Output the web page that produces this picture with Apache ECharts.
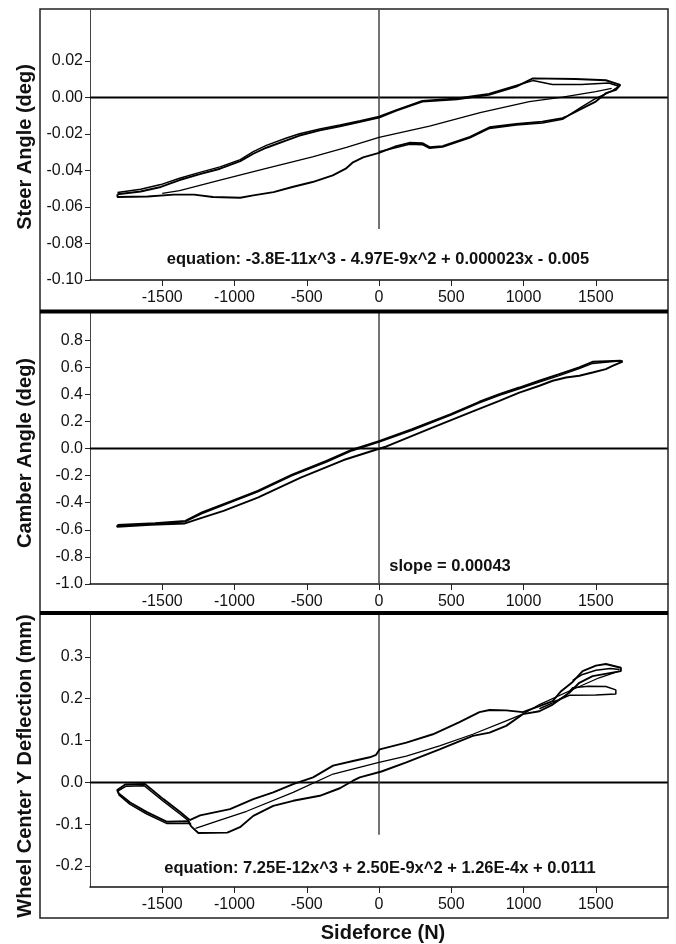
<!DOCTYPE html>
<html>
<head>
<meta charset="utf-8">
<script src="https://cdn.jsdelivr.net/npm/echarts@6/dist/echarts.min.js"></script>
<style>
html,body{margin:0;padding:0;background:#fff;}
#chart{width:676px;height:944px;}
</style>
</head>
<body>
<div id="chart"></div>
<script>
// ---------- tick labels ----------
const xTicks = [-1500, -1000, -500, 0, 500, 1000, 1500];
const steerTicks = [-0.10, -0.08, -0.06, -0.04, -0.02, 0.00, 0.02];
const camberTicks = [-1.0, -0.8, -0.6, -0.4, -0.2, 0.0, 0.2, 0.4, 0.6, 0.8];
const deflTicks = [-0.2, -0.1, 0.0, 0.1, 0.2, 0.3];

// ---------- axis titles / annotations ----------
const steerTitle = 'Steer Angle (deg)';
const camberTitle = 'Camber Angle (deg)';
const deflTitle = 'Wheel Center Y Deflection (mm)';
const xTitle = 'Sideforce (N)';
const steerNote = 'equation: -3.8E-11x^3 - 4.97E-9x^2 + 0.000023x - 0.005';
const camberNote = 'slope = 0.00043';
const deflNote = 'equation: 7.25E-12x^3 + 2.50E-9x^2 + 1.26E-4x + 0.0111';

// ---------- reference lines ----------
const zeroLine = [[-2000, 0], [2000, 0]];
const steerVLine = [[0, 0.048], [0, -0.072]];
const camberVLine = [[0, 1.0], [0, -1.0]];
const deflVLine = [[0, 0.40], [0, -0.125]];

// ---------- Steer angle (deg) vs sideforce (N) ----------
const steerLoop = [
  [-1810,-0.0530],[-1650,-0.0515],[-1510,-0.0490],[-1380,-0.0452],[-1240,-0.0420],[-1100,-0.0390],
  [-960,-0.0348],[-870,-0.0308],[-780,-0.0275],[-640,-0.0235],[-550,-0.0208],[-410,-0.0180],
  [-270,-0.0157],[-130,-0.0133],[0,-0.0110],[120,-0.0072],[300,-0.0022],[540,-0.0010],
  [760,0.0015],[950,0.0060],[1065,0.0105],[1360,0.0102],[1570,0.0095],[1670,0.0070],
  [1640,0.0042],[1570,0.0024],[1500,-0.0022],[1410,-0.0058],[1294,-0.0105],[1270,-0.0113],
  [1130,-0.0132],[950,-0.0145],[765,-0.0163],[630,-0.0215],[440,-0.0266],[350,-0.0272],
  [300,-0.0250],[210,-0.0248],[120,-0.0266],[0,-0.0303],[-110,-0.0328],[-180,-0.0355],
  [-230,-0.0390],[-320,-0.0426],[-460,-0.0463],[-600,-0.0490],[-730,-0.0518],[-870,-0.0536],
  [-960,-0.0549],[-1150,-0.0545],[-1280,-0.0532],[-1420,-0.0532],[-1600,-0.0542],[-1810,-0.0545],
  [-1810,-0.0530]
];
const steerLoop2 = [
  [-1810,-0.0520],[-1650,-0.0503],[-1510,-0.0477],[-1380,-0.0442],[-1240,-0.0410],[-1100,-0.0380],
  [-960,-0.0340],[-870,-0.0296],[-780,-0.0262],[-640,-0.0222],[-550,-0.0198],[-410,-0.0172],
  [-270,-0.0150],[-130,-0.0127],[0,-0.0104],[120,-0.0068],[300,-0.0017],[540,-0.0004],
  [760,0.0021],[950,0.0066],[1065,0.0093],[1200,0.0072],[1400,0.0072],[1590,0.0080],
  [1660,0.0062],[1610,0.0035],[1500,-0.0005],[1400,-0.0052],[1320,-0.0094],[1270,-0.0119],
  [1130,-0.0139],[950,-0.0151],[765,-0.0169],[630,-0.0221],[440,-0.0271],[350,-0.0278],
  [300,-0.0258],[210,-0.0256],[120,-0.0274],[0,-0.0297]
];
const steerFit = [
  [-1500,-0.0525],[-1380,-0.0510],[-1100,-0.0452],[-780,-0.0388],[-460,-0.0325],[-225,-0.0273],
  [0,-0.0218],[350,-0.0156],[700,-0.0083],[1040,-0.0022],[1270,0.0002],[1500,0.0033],[1610,0.0050]
];

// ---------- Camber angle (deg) vs sideforce (N) ----------
const camberLoop = [
  [-1810,-0.565],[-1550,-0.552],[-1340,-0.534],[-1225,-0.472],[-1017,-0.386],[-839,-0.312],
  [-601,-0.192],[-364,-0.092],[-186,-0.008],[0,0.055],[229,0.143],[497,0.254],[695,0.345],
  [833,0.401],[971,0.450],[1109,0.500],[1247,0.549],[1385,0.598],[1478,0.640],[1670,0.648],
  [1686,0.642],[1616,0.610],[1570,0.586],[1478,0.561],[1386,0.537],[1294,0.524],[1202,0.500],
  [1110,0.463],[971,0.413],[833,0.352],[645,0.272],[348,0.145],[52,0.015],[0,-0.002],
  [-245,-0.085],[-542,-0.215],[-839,-0.362],[-1076,-0.460],[-1254,-0.521],[-1343,-0.553],
  [-1581,-0.563],[-1812,-0.578],[-1810,-0.565]
];
const camberLoop2 = [
  [-1810,-0.572],[-1550,-0.556],[-1340,-0.540],[-1225,-0.480],[-1017,-0.394],[-839,-0.320],
  [-601,-0.200],[-364,-0.100],[-186,-0.016],[0,0.047],[229,0.135],[497,0.246],[695,0.337],
  [833,0.392],[971,0.441],[1109,0.490],[1247,0.538],[1385,0.590],[1478,0.628],[1600,0.640],[1670,0.645]
];

// ---------- Wheel center Y deflection (mm) vs sideforce (N) ----------
const deflLoop = [
  [-1310,-0.090],[-1238,-0.079],[-1031,-0.064],[-870,-0.040],[-732,-0.024],[-594,-0.004],
  [-456,0.012],[-318,0.040],[-180,0.051],[-64,0.060],[-20,0.066],[5,0.079],[189,0.095],
  [373,0.115],[557,0.144],[695,0.168],[765,0.173],[880,0.172],[995,0.168],[1110,0.182],
  [1202,0.194],[1260,0.218],[1340,0.240],[1409,0.266],[1501,0.279],[1570,0.283],[1674,0.274],
  [1674,0.266],[1478,0.254],[1386,0.238],[1317,0.214],[1202,0.186],[1110,0.170],[995,0.163],
  [880,0.135],[765,0.119],[649,0.111],[419,0.079],[189,0.048],[17,0.026],[-133,0.012],
  [-180,0.004],[-271,-0.014],[-410,-0.032],[-594,-0.044],[-732,-0.056],[-870,-0.080],
  [-962,-0.107],[-1050,-0.120],[-1250,-0.121],[-1300,-0.105],[-1320,-0.093],[-1470,-0.094],
  [-1606,-0.071],[-1722,-0.048],[-1803,-0.026],[-1812,-0.018],[-1756,-0.005],[-1620,-0.004],
  [-1492,-0.040],[-1376,-0.071],[-1310,-0.090]
];
const deflLoop2 = [
  [-1300,-0.098],[-1470,-0.098],[-1610,-0.075],[-1725,-0.052],[-1800,-0.030],[-1805,-0.020],
  [-1750,-0.009],[-1625,-0.008],[-1495,-0.044],[-1380,-0.075],[-1310,-0.094]
];
const deflLoop3 = [
  [1110,0.176],[1202,0.190],[1290,0.206],[1340,0.226],[1450,0.230],[1570,0.229],[1639,0.221],
  [1639,0.211],[1500,0.209],[1317,0.208],[1250,0.198],[1202,0.192]
];
const deflLoop4 = [[1340,0.244],[1409,0.258],[1501,0.268],[1600,0.272],[1665,0.270]];
const deflFit = [
  [-1270,-0.110],[-1100,-0.090],[-916,-0.069],[-594,-0.024],[-318,0.020],[0,0.048],[189,0.063],
  [419,0.087],[649,0.115],[880,0.147],[995,0.163],[1110,0.186],[1340,0.222],[1524,0.250],[1662,0.266]
];

// ---------- build chart ----------
const tickFont = "'Liberation Sans Narrow','Arial Narrow','Liberation Sans',Arial,sans-serif";
const boldFont = "'Liberation Sans',Arial,sans-serif";

const grids = [
  {left: 90, right: 8, top: 10, height: 270},
  {left: 90, right: 8, top: 313, height: 271},
  {left: 90, right: 8, top: 615, height: 272}
];

function xAx(i) {
  return {
    type: 'value', gridIndex: i, min: -2000, max: 2000, position: 'bottom',
    axisLine: {onZero: false, lineStyle: {color: '#111', width: 1.5}},
    axisTick: {inside: false, length: 6, lineStyle: {color: '#222'}, customValues: xTicks},
    axisLabel: {customValues: xTicks, margin: 10, fontSize: 16, color: '#111', fontFamily: tickFont,
      formatter: v => String(Math.round(v))},
    splitLine: {show: false}
  };
}
function yAx(i, min, max, ticks, dec) {
  return {
    type: 'value', gridIndex: i, min: min, max: max,
    axisLine: {show: true, onZero: false, lineStyle: {color: '#444', width: 1}},
    axisTick: {show: true, inside: false, length: 5, lineStyle: {color: '#222'}, customValues: ticks},
    axisLabel: {customValues: ticks, margin: 7, fontSize: 16, color: '#111', fontFamily: tickFont,
      formatter: v => Number(v).toFixed(dec)},
    splitLine: {show: false}
  };
}
function line(i, data, width, color) {
  return {
    type: 'line', xAxisIndex: i, yAxisIndex: i, data: data, showSymbol: false, symbol: 'none',
    lineStyle: {color: color || '#000', width: width}, silent: true, animation: false, z: 3
  };
}

const series = [
  line(0, zeroLine, 2, '#000'), line(0, steerVLine, 1.5, '#444'),
  line(0, steerFit, 1.3), line(0, steerLoop, 1.9), line(0, steerLoop2, 1.5),
  line(1, zeroLine, 2, '#000'), line(1, camberVLine, 1.5, '#444'),
  line(1, camberLoop, 1.9), line(1, camberLoop2, 1.5),
  line(2, zeroLine, 2, '#000'), line(2, deflVLine, 1.5, '#444'),
  line(2, deflFit, 1.3), line(2, deflLoop, 1.9), line(2, deflLoop2, 1.5),
  line(2, deflLoop3, 1.5), line(2, deflLoop4, 1.5)
];

function vtext(x, y, t) {
  return {type: 'text', x: x, y: y, rotation: Math.PI / 2,
    style: {text: t, align: 'center', verticalAlign: 'middle', font: 'bold 20px ' + boldFont, fill: '#111'}};
}
function htext(x, y, t, size) {
  return {type: 'text', x: x, y: y,
    style: {text: t, align: 'center', verticalAlign: 'middle', font: 'bold ' + size + 'px ' + boldFont, fill: '#111'}};
}

const chart = echarts.init(document.getElementById('chart'), null, {renderer: 'canvas'});
chart.setOption({
  animation: false,
  backgroundColor: '#fff',
  grid: grids,
  xAxis: [xAx(0), xAx(1), xAx(2)],
  yAxis: [
    yAx(0, -0.10, 0.048, steerTicks, 2),
    yAx(1, -1.0, 1.0, camberTicks, 1),
    yAx(2, -0.25, 0.40, deflTicks, 1)
  ],
  series: series,
  graphic: [
    {type: 'rect', shape: {x: 40, y: 9, width: 628, height: 909}, style: {fill: 'none', stroke: '#222', lineWidth: 1.5}, z: 10},
    {type: 'line', shape: {x1: 40, y1: 311.5, x2: 668, y2: 311.5}, style: {stroke: '#000', lineWidth: 4}, z: 10},
    {type: 'line', shape: {x1: 40, y1: 613, x2: 668, y2: 613}, style: {stroke: '#000', lineWidth: 4}, z: 10},
    vtext(25, 147, steerTitle),
    vtext(25, 453, camberTitle),
    vtext(25, 766, deflTitle),
    htext(383, 933, xTitle, 20),
    htext(378, 259, steerNote, 16.5),
    htext(450, 566, camberNote, 16.5),
    htext(380, 868, deflNote, 16.5)
  ]
});
</script>
</body>
</html>
